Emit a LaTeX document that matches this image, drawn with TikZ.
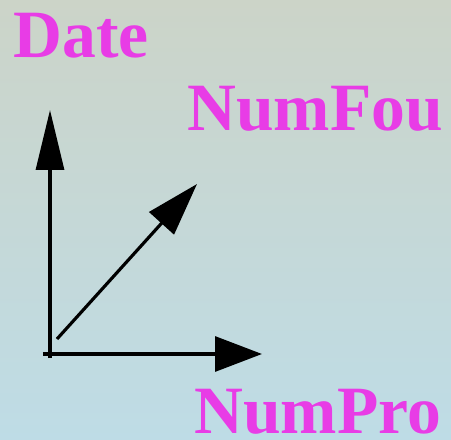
\documentclass[tikz,border=0pt]{standalone}
\usepackage{fontspec}
\setmainfont{Liberation Serif}
\usetikzlibrary{arrows.meta}
\definecolor{labelpink}{HTML}{E83CE6}
\definecolor{bgtop}{HTML}{CCD4C8}
\definecolor{bgbottom}{HTML}{BEDCE6}
\begin{document}
\begin{tikzpicture}[x=0.02cm,y=-0.02cm,
  axislabel/.style={anchor=base west,inner sep=0pt,text=labelpink,
    font=\fontsize{38.5}{40}\selectfont\bfseries},
  axis/.style={line width=1.8pt,black}]
\shade[top color=bgtop,bottom color=bgbottom] (0,0) rectangle (451,440);
\useasboundingbox (0,0) rectangle (451,440);

\coordinate (vstart) at (50,358);
\coordinate (hstart) at (43,354);
\coordinate (dstart) at (57,339);
\coordinate (datetip) at (50,110);
\coordinate (protip) at (262,354);
\coordinate (foutip) at (197,184);

\draw[axis,-{Triangle[length=1.2cm,width=0.56cm]}] (vstart) -- (datetip);
\draw[axis,-{Triangle[length=0.94cm,width=0.7cm]}] (hstart) -- (protip);
\draw[axis,-{Triangle[length=1.06cm,width=0.66cm]}] (dstart) -- (foutip);

\node[axislabel] (date) at (13,57) {Date};
\node[axislabel] (numfou) at (187,130) {NumFou};
\node[axislabel] (numpro) at (194,433) {NumPro};
\end{tikzpicture}
\end{document}
